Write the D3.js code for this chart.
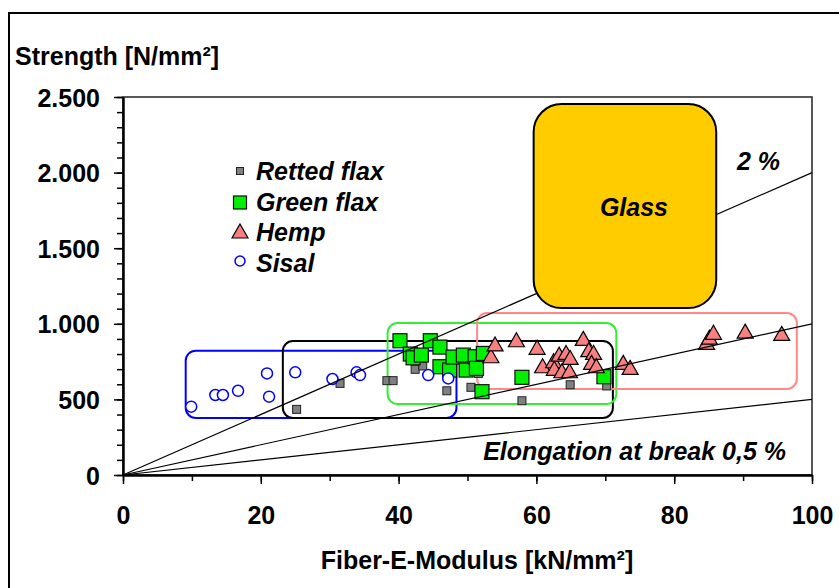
<!DOCTYPE html>
<html lang="en"><head>
<meta charset="utf-8">
<title>Fiber strength vs. modulus</title>
<script src="https://cdnjs.cloudflare.com/ajax/libs/d3/7.8.5/d3.min.js"></script>
<style>
  body { margin: 0; background: #fff; }
  svg text { font-family: "Liberation Sans", Arial, sans-serif; font-weight: bold; fill: #000; }
  .it { font-style: italic; }
</style>
</head>
<body>
<svg id="chart" width="839" height="588"></svg>
<script>
// data: [E-modulus kN/mm², strength N/mm²]
const rettedFlax = [[25.2,434],[31.5,606],[38.3,624],[39.2,624],[42.4,699],[43.5,721],[46.5,700],
  [47.0,557],[50.5,580],[51.6,672],[57.9,491],[64.9,597],[70.2,589]]
const greenFlax = [[40.2,888],[44.6,888],[46.0,846],[41.7,800],[42.1,775],[43.3,793],[46.0,716],
  [47.4,694],[47.9,780],[49.4,793],[49.8,694],[51.1,782],[51.3,705],[52.3,804],[52.1,551],
  [57.9,646],[69.8,650]]
const hemp = [[53.4,782],[54.0,860],[57.1,888],[60.1,838],[60.9,716],[62.5,749],[62.6,699],
  [63.3,793],[63.7,683],[64.3,804],[64.8,683],[64.9,771],[66.8,897],[67.6,822],[68.3,804],
  [68.0,738],[68.7,716],[72.6,738],[73.6,705],[84.7,871],[85.1,905],[85.7,937],[90.3,945],[95.6,930]]
const sisal = [[9.9,452],[13.4,529],[14.5,529],[16.7,557],[20.9,672],[21.2,518],[25.0,679],
  [30.4,635],[33.9,679],[34.4,661],[44.3,661],[47.2,639]]

// range boxes per fiber [x0, x1, y0, y1]
const sisalBox = [9.1, 48.4, 377, 822]
const rettedBox = [23.2, 71.1, 377, 886]
const greenBox = [38.4, 71.6, 469, 1005]
const hempBox = [51.4, 97.8, 569, 1071]
const glassBox = [59.6, 86.1, 1104, 2453]

const elongations = [0.5, 1, 2]  // % elongation at break
const xTicks = [0, 20, 40, 60, 80, 100]
const yTicks = [0, 500, 1000, 1500, 2000, 2500]
const yTickLabels = ["0", "500", "1.000", "1.500", "2.000", "2.500"]
const legendNames = ["Retted flax", "Green flax", "Hemp", "Sisal"]

const svg = d3.select("#chart")
const x = d3.scaleLinear().domain([0, 100]).range([123, 812])
const y = d3.scaleLinear().domain([0, 2500]).range([475, 97])
const fs = 25

// outer frame
svg.append("rect")
  .attr("x", 9).attr("y", 13).attr("width", 900).attr("height", 700)
  .attr("fill", "none").attr("stroke", "#000").attr("stroke-width", 2)

// plot frame
svg.append("rect")
  .attr("x", x(0)).attr("y", y(2500))
  .attr("width", x(100) - x(0)).attr("height", y(0) - y(2500))
  .attr("fill", "none").attr("stroke", "#222").attr("stroke-width", 1.5)

// range boxes
function box(b, color, r) {
  svg.append("rect")
    .attr("x", x(b[0])).attr("y", y(b[3]))
    .attr("width", x(b[1]) - x(b[0])).attr("height", y(b[2]) - y(b[3]))
    .attr("rx", r).attr("ry", r)
    .attr("fill", "none").attr("stroke", color).attr("stroke-width", 2)
}
box(sisalBox, "#0000ff", 10)
box(rettedBox, "#000", 10)
box(greenBox, "#33ee33", 10)
box(hempBox, "#ff8888", 10)

// points
const tri = "M0,-8L8,6L-8,6Z"
svg.append("g").selectAll("rect")
  .data(rettedFlax).enter().append("rect")
  .attr("x", d => x(d[0]) - 4).attr("y", d => y(d[1]) - 4)
  .attr("width", 8).attr("height", 8)
  .attr("fill", "#808080").attr("stroke", "#222").attr("stroke-width", 1)
svg.append("g").selectAll("rect")
  .data(greenFlax).enter().append("rect")
  .attr("x", d => x(d[0]) - 7).attr("y", d => y(d[1]) - 7)
  .attr("width", 14).attr("height", 14)
  .attr("fill", "#00f000").attr("stroke", "#111").attr("stroke-width", 1.2)
svg.append("g").selectAll("path")
  .data(hemp).enter().append("path")
  .attr("d", tri)
  .attr("transform", d => `translate(${x(d[0])},${y(d[1])})`)
  .attr("fill", "#f88080").attr("stroke", "#000").attr("stroke-width", 1.2)
svg.append("g").selectAll("circle")
  .data(sisal).enter().append("circle")
  .attr("cx", d => x(d[0])).attr("cy", d => y(d[1])).attr("r", 5.5)
  .attr("fill", "#fff").attr("stroke", "#0000ff").attr("stroke-width", 1.5)

// elongation lines
svg.append("g").selectAll("line")
  .data(elongations).enter().append("line")
  .attr("x1", x(0)).attr("y1", y(0))
  .attr("x2", x(100)).attr("y2", d => y(100 * d * 10))
  .attr("stroke", "#000").attr("stroke-width", 1.2)

// glass
svg.append("rect")
  .attr("x", x(glassBox[0])).attr("y", y(glassBox[3]))
  .attr("width", x(glassBox[1]) - x(glassBox[0])).attr("height", y(glassBox[2]) - y(glassBox[3]))
  .attr("rx", 28).attr("ry", 28)
  .attr("fill", "#ffcc00").attr("stroke", "#000").attr("stroke-width", 2)
svg.append("text").attr("class", "it")
  .attr("x", x((glassBox[0] + glassBox[1]) / 2) + 9).attr("y", 216)
  .attr("text-anchor", "middle").attr("font-size", fs).text("Glass")

// axes
const yMinor = d3.range(0, 2501, 100)
const xMinor = d3.range(0, 101, 10)
svg.append("g").attr("transform", `translate(${x(0)},0)`)
  .call(d3.axisLeft(y).tickValues(yMinor).tickSize(6).tickFormat(""))
  .call(g => g.select(".domain").remove())
  .call(g => g.selectAll("line").attr("stroke-width", 1.5))
svg.append("g").attr("transform", `translate(0,${y(0)})`)
  .call(d3.axisBottom(x).tickValues(xMinor).tickSize(6).tickFormat(""))
  .call(g => g.select(".domain").remove())
  .call(g => g.selectAll("line").attr("stroke-width", 1.5))

svg.append("g").attr("transform", `translate(${x(0)},0)`)
  .call(d3.axisLeft(y).tickValues(yTicks).tickSize(9).tickPadding(14)
    .tickFormat((d, i) => yTickLabels[i]).tickSizeOuter(0))
  .call(g => g.select(".domain").attr("stroke-width", 2.5))
  .call(g => g.selectAll("line").attr("stroke-width", 1.5))
  .call(g => g.selectAll("text").attr("font-size", fs).attr("font-family", null).attr("dy", "0.36em"))
svg.append("g").attr("transform", `translate(0,${y(0)})`)
  .call(d3.axisBottom(x).tickValues(xTicks).tickSize(9).tickPadding(22).tickSizeOuter(0))
  .call(g => g.select(".domain").attr("stroke-width", 2.5))
  .call(g => g.selectAll("line").attr("stroke-width", 1.5))
  .call(g => g.selectAll("text").attr("font-size", fs).attr("font-family", null))

// titles
svg.append("text").attr("x", 15).attr("y", 65).attr("font-size", fs).text("Strength [N/mm²]")
svg.append("text").attr("x", 477).attr("y", 569).attr("text-anchor", "middle")
  .attr("font-size", fs).text("Fiber-E-Modulus [kN/mm²]")
svg.append("text").attr("class", "it").attr("x", 737).attr("y", 170)
  .attr("font-size", fs).text("2 %")
svg.append("text").attr("class", "it").attr("x", 786).attr("y", 460)
  .attr("text-anchor", "end").attr("font-size", fs).text("Elongation at break 0,5 %")

// legend
const leg = svg.append("g").attr("transform", "translate(240,0)")
const rowY = [172, 203, 233, 264]
leg.append("rect").attr("x", -3.5).attr("y", rowY[0] - 4.5).attr("width", 7).attr("height", 7)
  .attr("fill", "#808080").attr("stroke", "#222")
leg.append("rect").attr("x", -6.5).attr("y", rowY[1] - 7).attr("width", 13).attr("height", 13)
  .attr("fill", "#00f000").attr("stroke", "#111").attr("stroke-width", 1.2)
leg.append("path").attr("d", tri).attr("transform", `translate(0,${rowY[2] - 1})`)
  .attr("fill", "#f88080").attr("stroke", "#000").attr("stroke-width", 1.2)
leg.append("circle").attr("cx", 0).attr("cy", rowY[3] - 3).attr("r", 5)
  .attr("fill", "#fff").attr("stroke", "#0000ff").attr("stroke-width", 1.5)
leg.selectAll("text.lab")
  .data(legendNames).enter().append("text")
  .attr("class", "lab it")
  .attr("x", 16).attr("y", (d, i) => rowY[i] + 8)
  .attr("font-size", fs).text(d => d)
</script>
</body>
</html>
